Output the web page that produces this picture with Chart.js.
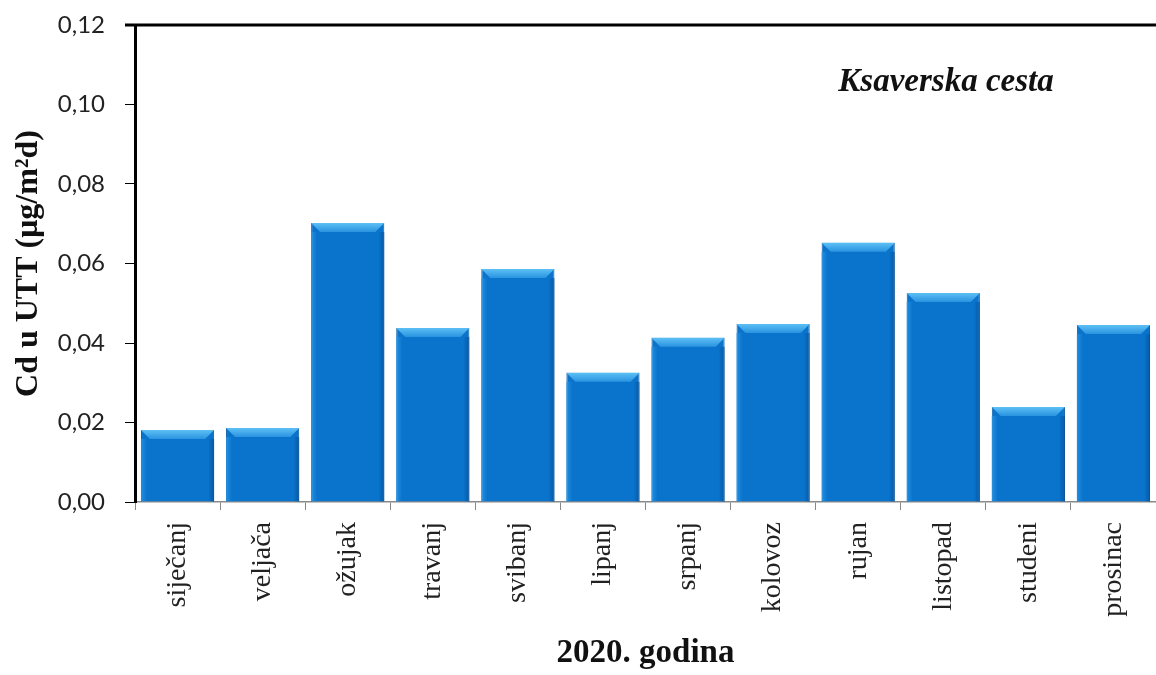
<!DOCTYPE html>
<html>
<head>
<meta charset="utf-8">
<script src="https://cdn.jsdelivr.net/npm/chart.js@4.4.0/dist/chart.umd.min.js"></script>
<style>
  html, body { margin: 0; padding: 0; background: #fff; }
  #wrap { width: 1156px; height: 675px; }
</style>
</head>
<body>
<div id="wrap"><canvas id="chart" width="1156" height="675"></canvas></div>
<script>
// --- data ---
const months = ['siječanj', 'veljača', 'ožujak', 'travanj', 'svibanj', 'lipanj',
                'srpanj', 'kolovoz', 'rujan', 'listopad', 'studeni', 'prosinac'];
const cdValues = [0.0181, 0.0186, 0.0702, 0.0438, 0.0586, 0.0325,
                  0.0413, 0.0448, 0.0652, 0.0526, 0.0239, 0.0445];
const yTicks = [0, 0.02, 0.04, 0.06, 0.08, 0.10, 0.12];
const stationName = 'Ksaverska cesta';
const yTitle = 'Cd u UTT (μg/m²d)';
const xTitle = '2020. godina';

// top frame line + station label
const framePlugin = {
  id: 'frame',
  afterDraw(chart) {
    const { ctx, chartArea } = chart;
    ctx.save();
    ctx.strokeStyle = '#000';
    ctx.lineWidth = 3;
    ctx.beginPath();
    ctx.moveTo(chartArea.left - 10, chartArea.top);
    ctx.lineTo(chartArea.right, chartArea.top);
    ctx.stroke();
    ctx.fillStyle = '#111';
    ctx.font = 'italic bold 33px "Liberation Serif", serif';
    ctx.textAlign = 'center';
    ctx.textBaseline = 'middle';
    ctx.fillText(stationName, 946, 82);
    ctx.restore();
  }
};

// bevel highlight on top of each bar
const bevelPlugin = {
  id: 'bevel',
  afterDatasetsDraw(chart) {
    const { ctx } = chart;
    const meta = chart.getDatasetMeta(0);
    ctx.save();
    meta.data.forEach(bar => {
      const half = bar.width / 2;
      const l = bar.x - half, r = bar.x + half, t = bar.y;
      const bev = 9;
      const g = ctx.createLinearGradient(0, t, 0, t + bev);
      g.addColorStop(0, '#5CC0F5');
      g.addColorStop(1, '#2A93E0');
      ctx.fillStyle = g;
      ctx.beginPath();
      ctx.moveTo(l, t);
      ctx.lineTo(r, t);
      ctx.lineTo(r - bev, t + bev);
      ctx.lineTo(l + bev, t + bev);
      ctx.closePath();
      ctx.fill();
      // side shading
      const gl = ctx.createLinearGradient(l, 0, l + 6, 0);
      gl.addColorStop(0, 'rgba(40,150,230,0.8)');
      gl.addColorStop(1, 'rgba(40,150,230,0)');
      ctx.fillStyle = gl;
      ctx.fillRect(l, t + bev, 6, bar.base - t - bev);
      const gr = ctx.createLinearGradient(r - 6, 0, r, 0);
      gr.addColorStop(0, 'rgba(0,70,140,0)');
      gr.addColorStop(1, 'rgba(0,70,140,0.6)');
      ctx.fillStyle = gr;
      ctx.fillRect(r - 6, t + bev, 6, bar.base - t - bev);
    });
    ctx.restore();
  }
};

new Chart(document.getElementById('chart').getContext('2d'), {
  type: 'bar',
  data: {
    labels: months,
    datasets: [{
      data: cdValues,
      backgroundColor: '#0A74CC',
      borderColor: '#0A5BA3',
      borderWidth: 1,
      barPercentage: 0.86,
      categoryPercentage: 1.0
    }]
  },
  options: {
    responsive: false,
    animation: false,
    events: [],
    layout: { padding: { top: 25, right: 0, bottom: 0, left: 0 } },
    plugins: {
      legend: { display: false },
      tooltip: { enabled: false }
    },
    scales: {
      x: {
        grid: {
          offset: true,
          drawOnChartArea: false,
          drawTicks: true,
          tickLength: 8,
          color: '#888'
        },
        border: { color: '#8a8a8a', width: 1.5 },
        ticks: {
          minRotation: 90,
          maxRotation: 90,
          padding: 12,
          color: '#222',
          font: { family: '"Liberation Serif", serif', size: 28 }
        },
        title: {
          display: true,
          text: xTitle,
          color: '#111',
          padding: { top: 8, bottom: 2 },
          font: { family: '"Liberation Serif", serif', size: 33, weight: 'bold' }
        },
        afterFit(scale) {
          scale.height = 173;
          scale.paddingLeft = 0;
          scale.paddingRight = 0;
        }
      },
      y: {
        min: 0,
        max: 0.12,
        afterBuildTicks(scale) { scale.ticks = yTicks.map(v => ({ value: v })); },
        grid: {
          drawOnChartArea: false,
          drawTicks: true,
          tickLength: 10,
          color: '#000'
        },
        border: { color: '#000', width: 3 },
        ticks: {
          padding: 20,
          color: '#222',
          font: { family: 'Lato, "Open Sans", sans-serif', size: 24 },
          callback: v => v.toFixed(2).replace('.', ',')
        },
        title: {
          display: true,
          text: yTitle,
          color: '#111',
          padding: { top: 10, bottom: 4 },
          font: { family: '"Liberation Serif", serif', size: 32, weight: 'bold' }
        },
        afterFit(scale) {
          scale.width = 135;
          scale.paddingTop = 10;
          scale.paddingBottom = 10;
        }
      }
    }
  },
  plugins: [framePlugin, bevelPlugin]
});
</script>
</body>
</html>
